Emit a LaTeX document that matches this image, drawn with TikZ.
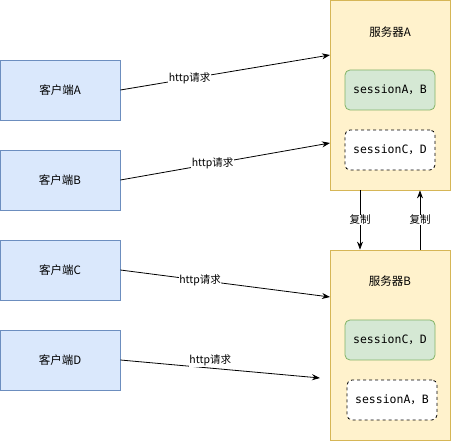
\documentclass[tikz,border=0pt]{standalone}
\usepackage{fontspec}
\setmainfont{Noto Sans CJK SC}
\newfontfamily\monofont{DejaVu Sans Mono}
\newfontfamily\cjk{Noto Sans CJK SC}
\usetikzlibrary{arrows.meta}

\definecolor{clientfill}{HTML}{DAE8FC}
\definecolor{clientline}{HTML}{6C8EBF}
\definecolor{serverfill}{HTML}{FFF2CC}
\definecolor{serverline}{HTML}{D6B656}
\definecolor{sessfill}{HTML}{D5E8D4}
\definecolor{sessline}{HTML}{82B366}

\begin{document}
\begin{tikzpicture}[x=1pt, y=-1pt, >={Stealth[length=8pt,width=6pt]}, line width=0.8pt,
        every node/.append style={inner sep=1pt}]
      \tikzstyle{client} = [draw=clientline, fill=clientfill, minimum width=120pt, minimum height=60pt, font=\fontsize{11.5}{13}\selectfont]
      \tikzstyle{server} = [draw=serverline, fill=serverfill, minimum width=120pt, minimum height=190pt]
      \tikzstyle{title} = [font=\fontsize{11.5}{13}\selectfont]
      \tikzstyle{sess} = [draw=sessline, fill=sessfill, rounded corners=5pt, minimum width=90pt, minimum height=40pt, font=\fontsize{11.5}{13}\monofont]
      \tikzstyle{copy} = [draw=black, dashed, fill=white, rounded corners=5pt, minimum width=90pt, minimum height=40pt, font=\fontsize{11.5}{13}\monofont]
      \tikzstyle{req} = [fill=white, font=\fontsize{10.5}{12}\selectfont, inner sep=0.5pt]
      \useasboundingbox (0,0) rectangle (451,441);
      % clients
      \node (cliA) [client] at (60,90) {客户端A};
      \node (cliB) [client] at (60,180) {客户端B};
      \node (cliC) [client] at (60,270) {客户端C};
      \node (cliD) [client] at (60,360) {客户端D};
      % servers
      \node (srvA) [server] at (390,95) {};
      \node (srvB) [server] at (390,345) {};
      \node (titleA) [title] at (390,32) {服务器A};
      \node (titleB) [title] at (390,281) {服务器B};
      \node (sessAB) [sess] at (390,90) {sessionA{\cjk，}B};
      \node (copyCD) [copy] at (390,150) {sessionC{\cjk，}D};
      \node (sessCD) [sess] at (390,340) {sessionC{\cjk，}D};
      \node (copyAB) [copy] at (392,400) {sessionA{\cjk，}B};
      \coordinate (inA) at (330,55);
      \coordinate (inB) at (330,143);
      \coordinate (inC) at (330,297);
      \coordinate (inD) at (320,378);
      % requests
      \draw [->] (cliA.east) -- (inA) node [req, pos=0.33] {http请求};
      \draw [->] (cliB.east) -- (inB) node [req, pos=0.44] {http请求};
      \draw [->] (cliC.east) -- (inC) node [req, pos=0.38] {http请求};
      \draw [->] (cliD.east) -- (inD) node [req, pos=0.45, above=1pt] {http请求};
      % replication
      \draw [->] ([xshift=-30pt]srvA.south) -- ([xshift=-30pt]srvB.north) node [req, midway] {复制};
      \draw [->] ([xshift=30pt]srvB.north) -- ([xshift=30pt]srvA.south) node [req, midway] {复制};
    \end{tikzpicture}
\end{document}
